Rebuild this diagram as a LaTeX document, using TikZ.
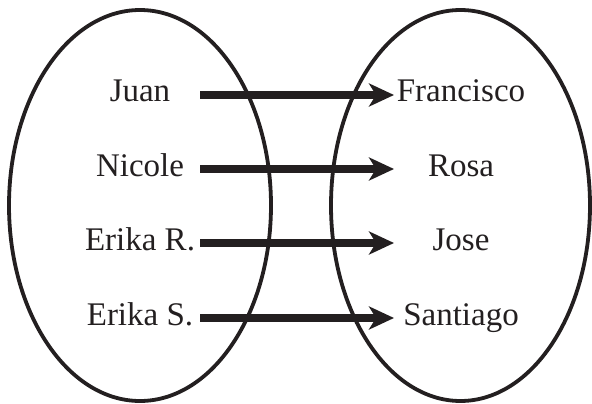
\documentclass[tikz,border=0pt]{standalone}
\usepackage{fontspec}
\setmainfont{Liberation Serif}
\usetikzlibrary{arrows.meta}
\definecolor{ink}{RGB}{35,31,32}
\begin{document}
\begin{tikzpicture}[x=1pt,y=-1pt,
  setring/.style={draw=ink,line width=3.8pt},
  personlabel/.style={text=ink,anchor=base,inner sep=0pt,font=\fontsize{33}{39}\selectfont},
  maparrow/.style={draw=ink,line width=7.5pt,
    -{Stealth[length=25pt,width=23pt,inset=7pt]}}]
  \useasboundingbox (0,0) rectangle (592,404);
  % the two sets
  \draw[setring] (140,205.5) ellipse [x radius=131, y radius=195.5];
  \draw[setring] (460.5,205.5) ellipse [x radius=129.5, y radius=195.5];
  % domain
  \node[personlabel] (juan)   at (140,102) {Juan};
  \node[personlabel] (nicole) at (140,176) {Nicole};
  \node[personlabel] (erikar) at (140,250) {Erika R.};
  \node[personlabel] (erikas) at (140,325) {Erika S.};
  % codomain
  \node[personlabel] (francisco) at (461,102) {Francisco};
  \node[personlabel] (rosa)      at (461,176) {Rosa};
  \node[personlabel] (jose)      at (461,250) {Jose};
  \node[personlabel] (santiago)  at (461,325) {Santiago};
  % arrow ends
  \coordinate (s1) at (200,95);  \coordinate (t1) at (394,95);
  \coordinate (s2) at (200,169); \coordinate (t2) at (394,169);
  \coordinate (s3) at (200,243); \coordinate (t3) at (394,243);
  \coordinate (s4) at (200,318); \coordinate (t4) at (394,318);
  \draw[maparrow] (s1) -- (t1);
  \draw[maparrow] (s2) -- (t2);
  \draw[maparrow] (s3) -- (t3);
  \draw[maparrow] (s4) -- (t4);
\end{tikzpicture}
\end{document}
